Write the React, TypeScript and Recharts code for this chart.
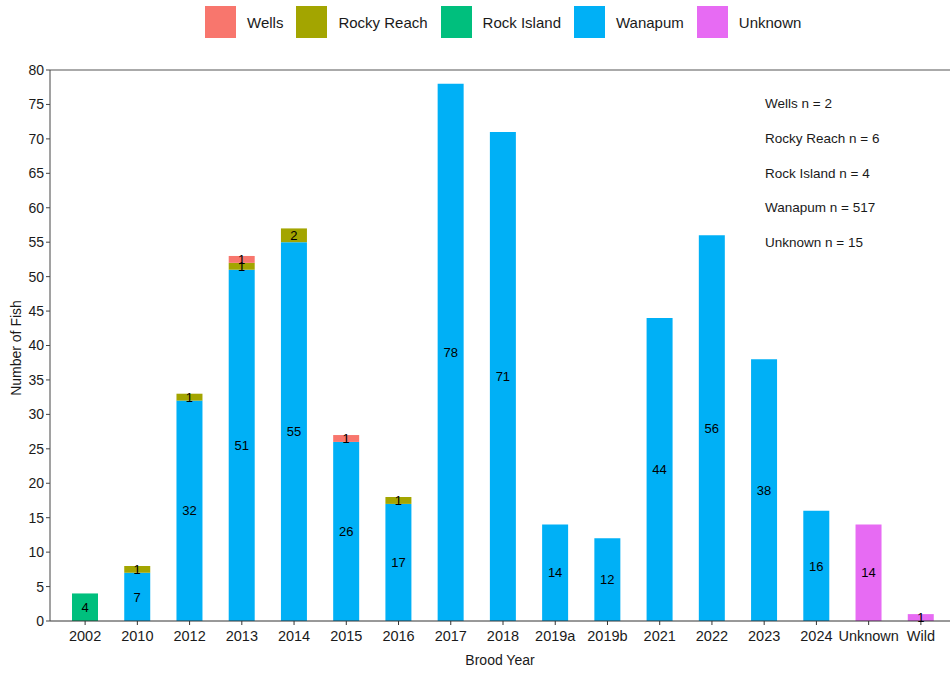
import React from "react";
import {
  BarChart,
  Bar,
  XAxis,
  YAxis,
  LabelList,
  ReferenceLine,
} from "recharts";

// brood years on the x axis
const broodYears = [
  "2002", "2010", "2012", "2013", "2014", "2015", "2016", "2017", "2018",
  "2019a", "2019b", "2021", "2022", "2023", "2024", "Unknown", "Wild",
];

// fish counts per origin, one entry per brood year
const wells = [0, 0, 0, 1, 0, 1, 0, 0, 0, 0, 0, 0, 0, 0, 0, 0, 0];
const rockyReach = [0, 1, 1, 1, 2, 0, 1, 0, 0, 0, 0, 0, 0, 0, 0, 0, 0];
const rockIsland = [4, 0, 0, 0, 0, 0, 0, 0, 0, 0, 0, 0, 0, 0, 0, 0, 0];
const wanapum = [0, 7, 32, 51, 55, 26, 17, 78, 71, 14, 12, 44, 56, 38, 16, 0, 0];
const unknown = [0, 0, 0, 0, 0, 0, 0, 0, 0, 0, 0, 0, 0, 0, 0, 14, 1];

const yTicks = [0, 5, 10, 15, 20, 25, 30, 35, 40, 45, 50, 55, 60, 65, 70, 75, 80];

const series = [
  { key: "wells", name: "Wells", color: "#F8766D", values: wells },
  { key: "rockyReach", name: "Rocky Reach", color: "#A3A500", values: rockyReach },
  { key: "rockIsland", name: "Rock Island", color: "#00BF7D", values: rockIsland },
  { key: "wanapum", name: "Wanapum", color: "#00B0F6", values: wanapum },
  { key: "unknown", name: "Unknown", color: "#E76BF3", values: unknown },
];

const data = broodYears.map((year, i) => {
  const row: any = { year };
  series.forEach((s) => {
    row[s.key] = s.values[i];
  });
  return row;
});

const totals = series.map((s) => ({
  name: s.name,
  n: s.values.reduce((a, b) => a + b, 0),
}));

// bottom of the stack first
const stackOrder = ["unknown", "wanapum", "rockIsland", "rockyReach", "wells"];

const font = "'Liberation Sans', Arial, sans-serif";

if (typeof document !== "undefined") {
  document.body.style.margin = "0";
}

export default function App() {
  return (
    <div style={{ position: "relative", width: 950, height: 675, fontFamily: font, background: "#fff" }}>
      <BarChart
        width={950}
        height={675}
        data={data}
        margin={{ top: 70, right: 0, bottom: 4, left: 0 }}
        barSize={26}
      >
        <XAxis
          dataKey="year"
          height={50}
          interval={0}
          padding={{ left: 9, right: 3 }}
          stroke="#333"
          tickSize={4}
          tickMargin={6}
          tick={{ fill: "#1a1a1a", fontSize: 14.5, fontFamily: font }}
          label={{
            value: "Brood Year",
            position: "insideBottom",
            offset: 6,
            fill: "#1a1a1a",
            fontSize: 14,
            fontFamily: font,
          }}
        />
        <YAxis
          width={50}
          domain={[0, 80]}
          ticks={yTicks}
          interval={0}
          stroke="#444"
          tickSize={4}
          tick={{ fill: "#1a1a1a", fontSize: 14, fontFamily: font }}
          label={{
            content: () => (
              <text
                x={17}
                y={348}
                transform="rotate(-90 17 348)"
                textAnchor="middle"
                dominantBaseline="middle"
                fill="#1a1a1a"
                fontSize={14}
                fontFamily={font}
              >
                Number of Fish
              </text>
            ),
          }}
        />
        <ReferenceLine y={80} stroke="#aaaaaa" strokeWidth={2} ifOverflow="visible" />
        {stackOrder.map((key) => {
          const s = series.find((x) => x.key === key)!;
          return (
            <Bar
              key={key}
              dataKey={key}
              name={s.name}
              stackId="a"
              fill={s.color}
              isAnimationActive={false}
            >
              <LabelList
                dataKey={key}
                position="center"
                formatter={(v: any) => (v ? v : "")}
                fill="#000"
                fontSize={13}
                fontFamily={font}
              />
            </Bar>
          );
        })}
      </BarChart>

      {/* legend */}
      <div
        style={{
          position: "absolute",
          top: 6,
          left: 205,
          display: "flex",
          alignItems: "center",
          fontSize: 15,
          color: "#1a1a1a",
        }}
      >
        {series.map((s) => (
          <div key={s.key} style={{ display: "flex", alignItems: "center", marginRight: 13 }}>
            <div style={{ width: 31, height: 32, background: s.color, marginRight: 11 }} />
            <span>{s.name}</span>
          </div>
        ))}
      </div>

      {/* n annotations */}
      <div style={{ position: "absolute", top: 94, left: 765, fontSize: 13.5, color: "#1a1a1a" }}>
        {totals.map((t) => (
          <div key={t.name} style={{ height: 34.8, lineHeight: "20px" }}>
            {t.name} n = {t.n}
          </div>
        ))}
      </div>
    </div>
  );
}
